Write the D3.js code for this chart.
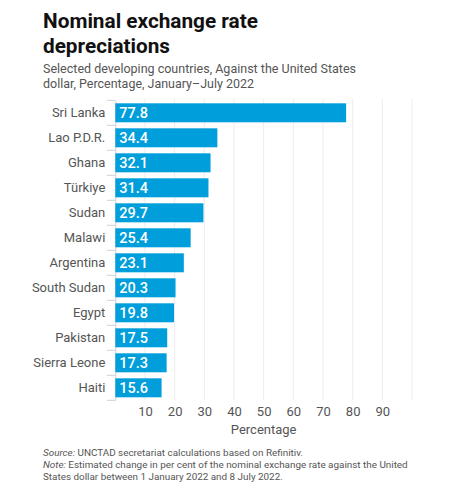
<!DOCTYPE html>
<html><head><meta charset="utf-8">
<script src="https://cdn.jsdelivr.net/npm/d3@7"></script>
<style>
body{margin:0;background:#fff;}
svg text{font-family:Roboto,"Noto Sans",sans-serif;}
</style></head>
<body>
<svg id="chart" width="451" height="500"></svg>
<script>
const countries = ["Sri Lanka","Lao P.D.R.","Ghana","Türkiye","Sudan","Malawi","Argentina","South Sudan","Egypt","Pakistan","Sierra Leone","Haiti"];
const values = [77.8,34.4,32.1,31.4,29.7,25.4,23.1,20.3,19.8,17.5,17.3,15.6];
const tickValues = [10,20,30,40,50,60,70,80,90];
const gridValues = [10,20,30,40,50,60,70,80,90,100];
const titleLines = ["Nominal exchange rate","depreciations"];
const subtitleLines = ["Selected developing countries, Against the United States","dollar, Percentage, January\u2013July 2022"];
const footerLines = [
  [{t:"Source:", italic:true},{t:" UNCTAD secretariat calculations based on Refinitiv.", italic:false}],
  [{t:"Note:", italic:true},{t:" Estimated change in per cent of the nominal exchange rate against the United", italic:false}],
  [{t:"States dollar between 1 January 2022 and 8 July 2022.", italic:false}]
];

const svg = d3.select("#chart");
const left = 43;

const x = d3.scaleLinear().domain([0,100]).range([115.3,412]);
const y = d3.scaleBand().domain(countries).range([100.3,400.3]).paddingInner(0.24).paddingOuter(0.12);

// title
const titleW = [215,127];
svg.append("g").selectAll("text").data(titleLines).join("text")
  .attr("x",left).attr("y",(d,i)=>28+i*25)
  .attr("font-size",21).attr("font-weight",700).attr("fill","#111")
  .attr("textLength",(d,i)=>titleW[i]).attr("lengthAdjust","spacingAndGlyphs").text(d=>d);
const subW = [313,211];
svg.append("g").selectAll("text").data(subtitleLines).join("text")
  .attr("x",left).attr("y",(d,i)=>73+i*14.5)
  .attr("font-size",13.5).attr("fill","#555")
  .attr("textLength",(d,i)=>subW[i]).attr("lengthAdjust","spacingAndGlyphs").text(d=>d);

// grid
svg.append("g").selectAll("line").data(gridValues).join("line")
  .attr("x1",d=>x(d)).attr("x2",d=>x(d))
  .attr("y1",99).attr("y2",400)
  .attr("stroke","#ececec").attr("stroke-width",1);

// y axis
const yAxis = d3.axisLeft(y).tickSize(0).tickPadding(10);
const yg = svg.append("g").attr("transform","translate(115.3,0)").call(yAxis);
yg.select(".domain").attr("stroke","#d0d0d0");
yg.selectAll("text").attr("font-size",13).attr("fill","#555").attr("font-family","Roboto,sans-serif");
// category separator ticks
const bounds = countries.map(c=>y(c)-y.step()*y.paddingInner()/2).concat([y(countries[countries.length-1])+y.bandwidth()+y.step()*y.paddingInner()/2]);
svg.append("g").selectAll("line").data(bounds).join("line")
  .attr("x1",107).attr("x2",115.3).attr("y1",d=>d).attr("y2",d=>d)
  .attr("stroke","#d0d0d0");

// bars
svg.append("g").selectAll("rect").data(values).join("rect")
  .attr("x",x(0)).attr("y",(d,i)=>y(countries[i]))
  .attr("width",d=>x(d)-x(0)).attr("height",y.bandwidth())
  .attr("fill","#009edb");
svg.append("g").selectAll("text").data(values).join("text")
  .attr("x",x(0)+4).attr("y",(d,i)=>y(countries[i])+y.bandwidth()/2)
  .attr("dy","0.36em").attr("font-size",14.5).attr("font-weight",500)
  .attr("fill","#fff").text(d=>d.toFixed(1));

// x axis
const xAxis = d3.axisBottom(x).tickValues(tickValues).tickSize(0).tickPadding(7);
const xg = svg.append("g").attr("transform","translate(0,400)").call(xAxis);
xg.select(".domain").remove();
xg.selectAll("text").attr("font-size",13).attr("fill","#555").attr("font-family","Roboto,sans-serif");
svg.append("text").attr("x",(x.range()[0]+x.range()[1])/2).attr("y",434)
  .attr("text-anchor","middle").attr("font-size",13).attr("fill","#555").text("Percentage");

// footer
const ft = svg.append("g").selectAll("text").data(footerLines).join("text")
  .attr("x",left).attr("y",(d,i)=>456+i*12)
  .attr("font-size",9.9).attr("fill","#555");
ft.selectAll("tspan").data(d=>d).join("tspan")
  .attr("font-style",d=>d.italic?"italic":"normal")
  .text(d=>d.t);
</script>
</body></html>
